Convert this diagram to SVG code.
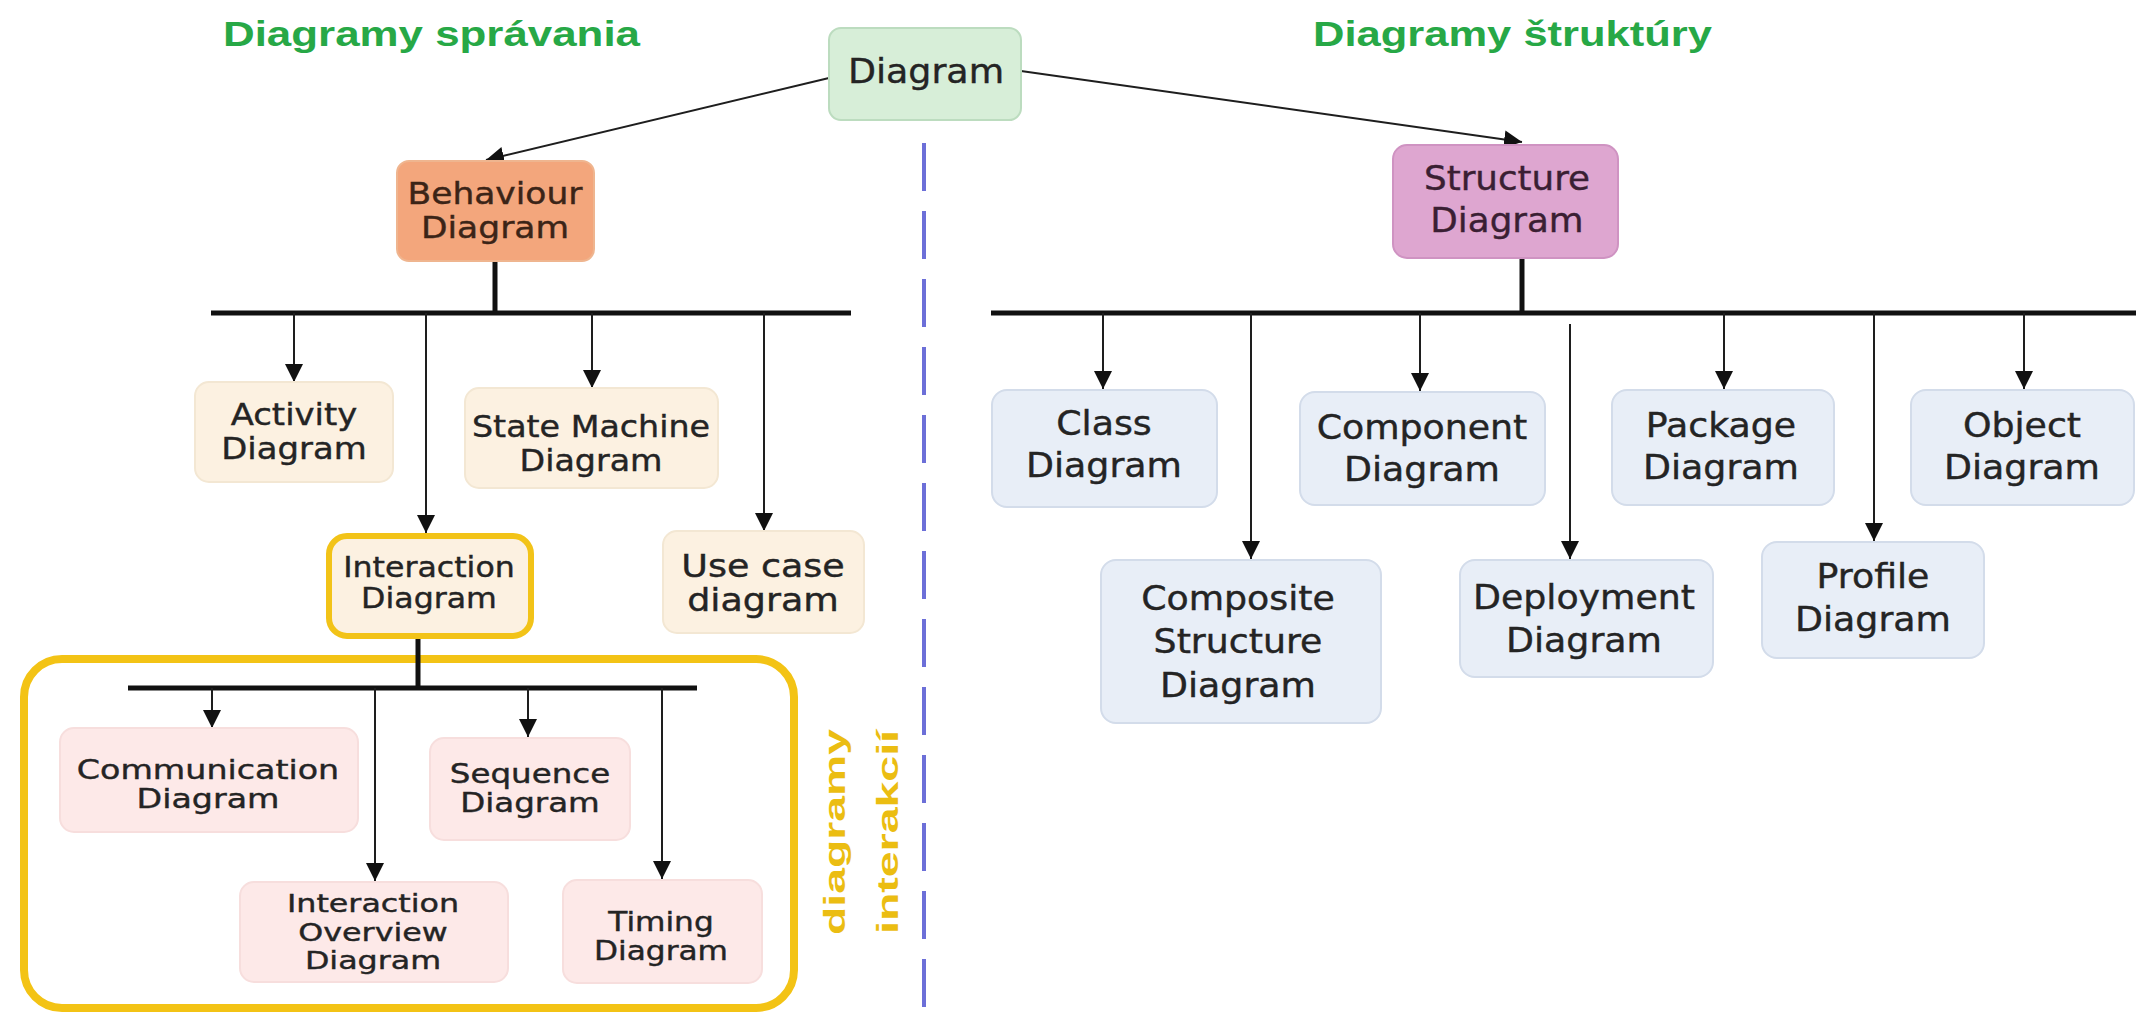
<svg xmlns="http://www.w3.org/2000/svg" width="2136" height="1022" viewBox="0 0 2136 1022">
<style>
.lbl{font-family:"DejaVu Sans","Liberation Sans",sans-serif;text-anchor:middle;fill:#242424;stroke:#242424;stroke-width:0.4}
.title{font-family:"Liberation Sans",Arial,sans-serif;font-weight:bold;font-size:35px;fill:#27a846}
.side{font-family:"Liberation Sans",Arial,sans-serif;font-weight:bold;font-size:30px;fill:#ebbd12;text-anchor:middle}
.conn{stroke:#1e1e1e;stroke-width:2;fill:none}
.bus{stroke:#111;stroke-width:5;fill:none}
.top{fill:#d7eed8;stroke:#bcdcbf;stroke-width:2}
.beh{fill:#f3a67c;stroke:#efb58f;stroke-width:2}
.str{fill:#dea6d0;stroke:#cf93c2;stroke-width:2}
.bc{fill:#fcf1e1;stroke:#f3e7d3;stroke-width:2}
.ic{fill:#fde9e8;stroke:#f7dedd;stroke-width:2}
.sc{fill:#e8eef7;stroke:#d3dcea;stroke-width:2}
.inter{fill:#fcf1e1;stroke:#f2c318;stroke-width:6}
</style>
<defs>
<marker id="ah" viewBox="0 0 18 20" refX="18" refY="10" markerWidth="18" markerHeight="20" markerUnits="userSpaceOnUse" orient="auto">
<path d="M0,1 L18,10 L0,19 z" fill="#111"/>
</marker>
</defs>
<rect width="2136" height="1022" fill="#ffffff"/>

<text class="title" x="223" y="46" textLength="417" lengthAdjust="spacingAndGlyphs">Diagramy správania</text>
<text class="title" x="1313" y="46" textLength="399" lengthAdjust="spacingAndGlyphs">Diagramy štruktúry</text>

<line x1="924" y1="143" x2="924" y2="1022" stroke="#6c6fd8" stroke-width="4" stroke-dasharray="48 20"/>

<rect x="24" y="659" width="770" height="349" rx="38" fill="none" stroke="#f3c315" stroke-width="8"/>
<g transform="translate(845 832) rotate(-90)"><text class="side" x="0" y="0" textLength="206" lengthAdjust="spacingAndGlyphs">diagramy</text></g>
<g transform="translate(898 832) rotate(-90)"><text class="side" x="0" y="0" textLength="204" lengthAdjust="spacingAndGlyphs">interakcií</text></g>

<g id="connectors">
<line class="conn" x1="829" y1="78" x2="486" y2="160" marker-end="url(#ah)"/>
<line class="conn" x1="1021" y1="71" x2="1522" y2="142" marker-end="url(#ah)"/>
<line class="bus" x1="495" y1="261" x2="495" y2="313" stroke-width="4"/>
<line class="bus" x1="211" y1="313" x2="851" y2="313"/>
<line class="conn" x1="294" y1="313" x2="294" y2="382" marker-end="url(#ah)"/>
<line class="conn" x1="426" y1="313" x2="426" y2="533" marker-end="url(#ah)"/>
<line class="conn" x1="592" y1="313" x2="592" y2="388" marker-end="url(#ah)"/>
<line class="conn" x1="764" y1="313" x2="764" y2="531" marker-end="url(#ah)"/>
<line class="bus" x1="418" y1="639" x2="418" y2="688" stroke-width="4"/>
<line class="bus" x1="128" y1="688" x2="697" y2="688" stroke-width="4"/>
<line class="conn" x1="212" y1="688" x2="212" y2="728" marker-end="url(#ah)"/>
<line class="conn" x1="375" y1="688" x2="375" y2="881" marker-end="url(#ah)"/>
<line class="conn" x1="528" y1="688" x2="528" y2="737" marker-end="url(#ah)"/>
<line class="conn" x1="662" y1="688" x2="662" y2="879" marker-end="url(#ah)"/>
<line class="bus" x1="1522" y1="258" x2="1522" y2="313" stroke-width="4"/>
<line class="bus" x1="991" y1="313" x2="2136" y2="313"/>
<line class="conn" x1="1103" y1="313" x2="1103" y2="389" marker-end="url(#ah)"/>
<line class="conn" x1="1251" y1="313" x2="1251" y2="559" marker-end="url(#ah)"/>
<line class="conn" x1="1420" y1="313" x2="1420" y2="391" marker-end="url(#ah)"/>
<line class="conn" x1="1570" y1="324" x2="1570" y2="559" marker-end="url(#ah)"/>
<line class="conn" x1="1724" y1="313" x2="1724" y2="389" marker-end="url(#ah)"/>
<line class="conn" x1="1874" y1="313" x2="1874" y2="541" marker-end="url(#ah)"/>
<line class="conn" x1="2024" y1="313" x2="2024" y2="389" marker-end="url(#ah)"/>
</g>

<g id="n-diagram"><rect class="top" x="829" y="28" width="192" height="92" rx="12"/>
<g transform="translate(926 0) scale(1.07 1)"><text class="lbl" font-size="34"><tspan x="0" y="83">Diagram</tspan></text></g></g>

<g id="n-behaviour"><rect class="beh" x="397" y="161" width="197" height="100" rx="12"/>
<g transform="translate(495 0) scale(1.15 1)"><text class="lbl" font-size="30" style="fill:#3b2417;stroke:#3b2417"><tspan x="0" y="204">Behaviour</tspan><tspan x="0" y="238">Diagram</tspan></text></g></g>

<g id="n-structure"><rect class="str" x="1393" y="145" width="225" height="113" rx="14"/>
<g transform="translate(1507 0) scale(1.05 1)"><text class="lbl" font-size="34" style="fill:#3a1f33;stroke:#3a1f33"><tspan x="0" y="190">Structure</tspan><tspan x="0" y="232">Diagram</tspan></text></g></g>

<g id="n-activity"><rect class="bc" x="195" y="382" width="198" height="100" rx="14"/>
<g transform="translate(294 0) scale(1.13 1)"><text class="lbl" font-size="30"><tspan x="0" y="425">Activity</tspan><tspan x="0" y="459">Diagram</tspan></text></g></g>

<g id="n-state"><rect class="bc" x="465" y="388" width="253" height="100" rx="14"/>
<g transform="translate(591 0) scale(1.11 1)"><text class="lbl" font-size="30"><tspan x="0" y="437">State Machine</tspan><tspan x="0" y="471">Diagram</tspan></text></g></g>

<g id="n-interaction"><rect class="inter" x="329" y="536" width="202" height="100" rx="18"/>
<g transform="translate(429 0) scale(1.13 1)"><text class="lbl" font-size="28"><tspan x="0" y="577">Interaction</tspan><tspan x="0" y="608">Diagram</tspan></text></g></g>

<g id="n-usecase"><rect class="bc" x="663" y="531" width="201" height="102" rx="14"/>
<g transform="translate(763 0) scale(1.14 1)"><text class="lbl" font-size="32"><tspan x="0" y="577">Use case</tspan><tspan x="0" y="611">diagram</tspan></text></g></g>

<g id="n-communication"><rect class="ic" x="60" y="728" width="298" height="104" rx="14"/>
<g transform="translate(208 0) scale(1.28 1)"><text class="lbl" font-size="26"><tspan x="0" y="779">Communication</tspan><tspan x="0" y="808">Diagram</tspan></text></g></g>

<g id="n-sequence"><rect class="ic" x="430" y="738" width="200" height="102" rx="14"/>
<g transform="translate(530 0) scale(1.25 1)"><text class="lbl" font-size="26"><tspan x="0" y="783">Sequence</tspan><tspan x="0" y="812">Diagram</tspan></text></g></g>

<g id="n-overview"><rect class="ic" x="240" y="882" width="268" height="100" rx="14"/>
<g transform="translate(373 0) scale(1.27 1)"><text class="lbl" font-size="25"><tspan x="0" y="912">Interaction</tspan><tspan x="0" y="941">Overview</tspan><tspan x="0" y="969">Diagram</tspan></text></g></g>

<g id="n-timing"><rect class="ic" x="563" y="880" width="199" height="103" rx="14"/>
<g transform="translate(661 0) scale(1.2 1)"><text class="lbl" font-size="26"><tspan x="0" y="931">Timing</tspan><tspan x="0" y="960">Diagram</tspan></text></g></g>

<g id="n-class"><rect class="sc" x="992" y="390" width="225" height="117" rx="15"/>
<g transform="translate(1104 0) scale(1.1 1)"><text class="lbl" font-size="33"><tspan x="0" y="435">Class</tspan><tspan x="0" y="477">Diagram</tspan></text></g></g>

<g id="n-component"><rect class="sc" x="1300" y="392" width="245" height="113" rx="15"/>
<g transform="translate(1422 0) scale(1.1 1)"><text class="lbl" font-size="33"><tspan x="0" y="439">Component</tspan><tspan x="0" y="481">Diagram</tspan></text></g></g>

<g id="n-package"><rect class="sc" x="1612" y="390" width="222" height="115" rx="15"/>
<g transform="translate(1721 0) scale(1.1 1)"><text class="lbl" font-size="33"><tspan x="0" y="437">Package</tspan><tspan x="0" y="479">Diagram</tspan></text></g></g>

<g id="n-object"><rect class="sc" x="1911" y="390" width="223" height="115" rx="15"/>
<g transform="translate(2022 0) scale(1.1 1)"><text class="lbl" font-size="33"><tspan x="0" y="437">Object</tspan><tspan x="0" y="479">Diagram</tspan></text></g></g>

<g id="n-composite"><rect class="sc" x="1101" y="560" width="280" height="163" rx="15"/>
<g transform="translate(1238 0) scale(1.1 1)"><text class="lbl" font-size="33"><tspan x="0" y="610">Composite</tspan><tspan x="0" y="653">Structure</tspan><tspan x="0" y="697">Diagram</tspan></text></g></g>

<g id="n-deployment"><rect class="sc" x="1460" y="560" width="253" height="117" rx="15"/>
<g transform="translate(1584 0) scale(1.1 1)"><text class="lbl" font-size="33"><tspan x="0" y="609">Deployment</tspan><tspan x="0" y="652">Diagram</tspan></text></g></g>

<g id="n-profile"><rect class="sc" x="1762" y="542" width="222" height="116" rx="15"/>
<g transform="translate(1873 0) scale(1.1 1)"><text class="lbl" font-size="33"><tspan x="0" y="588">Profile</tspan><tspan x="0" y="631">Diagram</tspan></text></g></g>
</svg>
